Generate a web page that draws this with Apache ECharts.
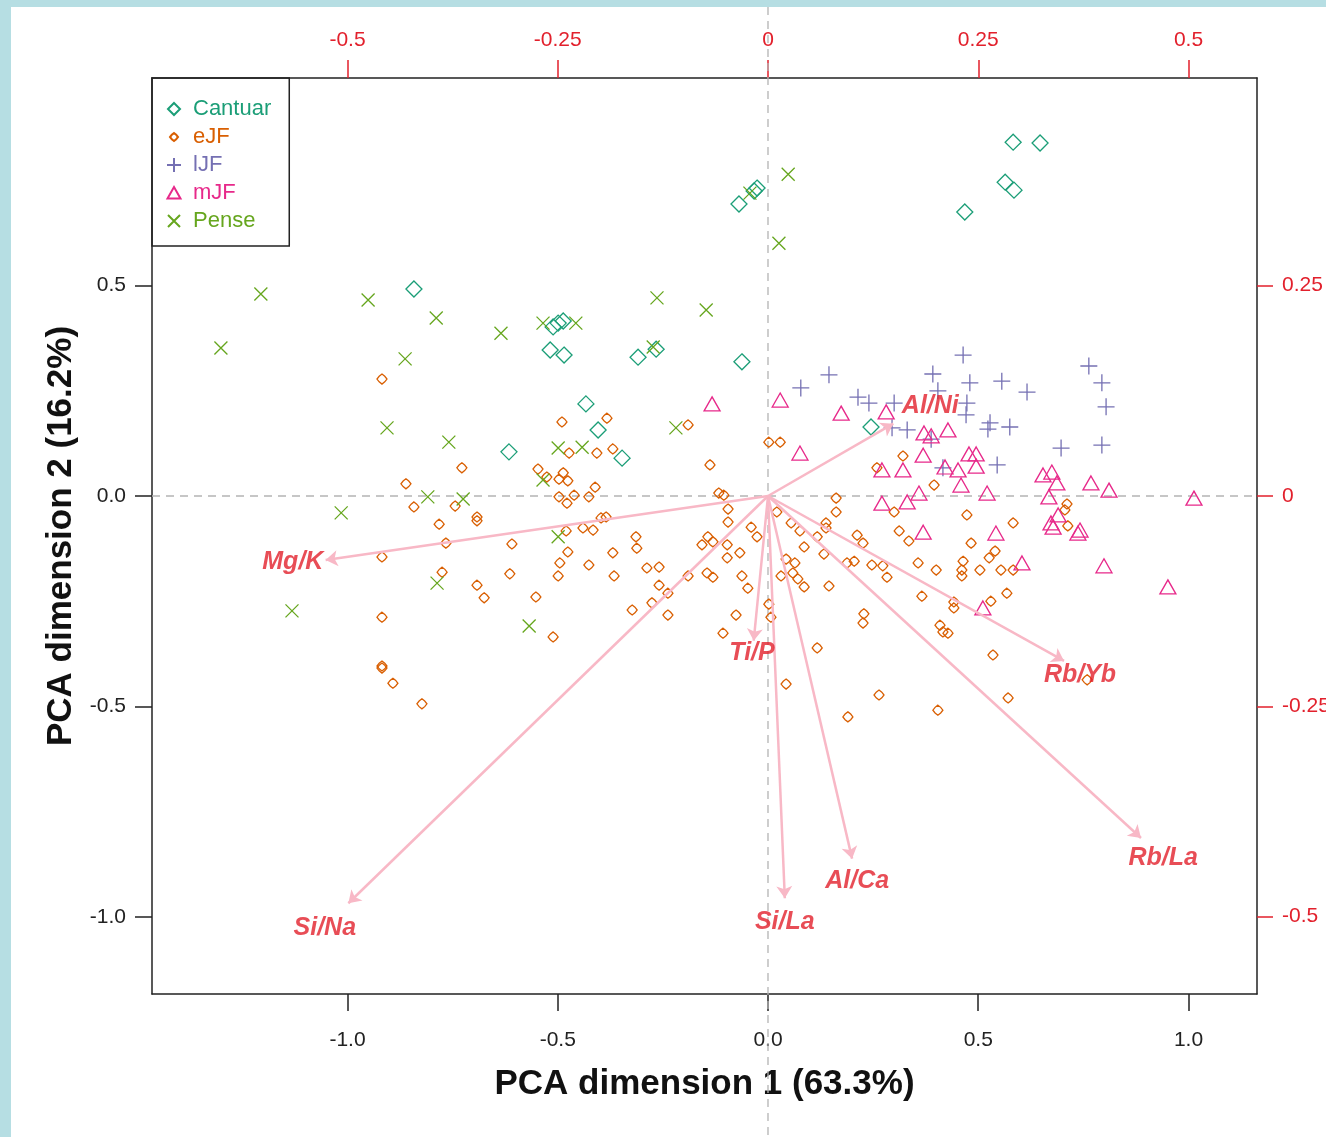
<!DOCTYPE html>
<html>
<head>
<meta charset="utf-8">
<script src="https://cdn.jsdelivr.net/npm/echarts@6/dist/echarts.min.js"></script>
<style>
html,body{margin:0;padding:0;background:#b6dee3;width:1326px;height:1137px;overflow:hidden;}
#main{position:absolute;left:11px;top:7px;width:1315px;height:1130px;background:#ffffff;}
</style>
</head>
<body>
<div id="main"></div>
<script>
// ---- data (PCA scores, primary axes) ----
const groups = ['Cantuar', 'eJF', 'lJF', 'mJF', 'Pense'];
const groupColors = ['#1B9E77', '#D95F02', '#7570B3', '#E7298A', '#66A61E'];

const cantuar = [
  [0.583,0.841],[0.647,0.839],[0.564,0.746],[0.585,0.727],[0.468,0.675],[-0.069,0.694],
  [-0.033,0.725],[-0.026,0.732],[-0.842,0.492],[-0.511,0.402],[-0.499,0.411],[-0.487,0.416],
  [-0.518,0.347],[-0.485,0.335],[-0.309,0.330],[-0.266,0.349],[-0.062,0.319],[-0.433,0.219],
  [-0.404,0.157],[-0.347,0.090],[-0.616,0.105],[0.245,0.164]
];
const eJF = [
  [-0.918,0.278],[-0.728,0.067],[-0.861,0.029],[-0.842,-0.026],[-0.744,-0.024],[-0.692,-0.050],
  [-0.490,0.176],[-0.383,0.185],[-0.190,0.169],[-0.473,0.102],[-0.407,0.102],[-0.369,0.112],
  [-0.547,0.064],[-0.526,0.045],[-0.487,0.055],[-0.497,0.040],[-0.476,0.036],[-0.411,0.021],
  [-0.138,0.074],[0.002,0.128],[0.029,0.128],[-0.497,-0.002],[-0.461,0.002],[-0.426,-0.002],
  [-0.478,-0.017],[-0.117,0.007],[-0.105,0.002],[-0.095,-0.031],[0.021,-0.038],[-0.397,-0.052],
  [-0.385,-0.050],[-0.782,-0.067],[-0.692,-0.059],[-0.766,-0.112],[-0.918,-0.145],[-0.609,-0.114],
  [-0.480,-0.083],[-0.440,-0.076],[-0.416,-0.081],[-0.476,-0.133],[-0.495,-0.159],[-0.499,-0.190],
  [-0.426,-0.164],[-0.369,-0.135],[-0.366,-0.190],[-0.314,-0.097],[-0.312,-0.124],[-0.288,-0.171],
  [-0.259,-0.169],[-0.259,-0.212],[-0.238,-0.231],[-0.276,-0.254],[-0.323,-0.271],[-0.238,-0.283],
  [-0.190,-0.190],[-0.145,-0.183],[-0.131,-0.193],[-0.143,-0.097],[-0.157,-0.116],[-0.131,-0.109],
  [-0.097,-0.116],[-0.067,-0.135],[-0.097,-0.147],[-0.062,-0.190],[-0.048,-0.219],[-0.076,-0.283],
  [-0.107,-0.326],[-0.095,-0.062],[-0.040,-0.074],[-0.026,-0.097],[-0.614,-0.185],[-0.692,-0.212],
  [-0.675,-0.242],[-0.552,-0.240],[-0.511,-0.335],[-0.918,-0.288],[-0.918,-0.404],[-0.918,-0.409],
  [-0.892,-0.445],[-0.823,-0.494],[-0.775,-0.181],
  [0.162,-0.005],[0.162,-0.038],[0.055,-0.064],[0.076,-0.083],[0.138,-0.064],[0.138,-0.076],
  [0.117,-0.097],[0.086,-0.121],[0.133,-0.138],[0.212,-0.093],[0.226,-0.112],[0.043,-0.150],
  [0.064,-0.159],[0.031,-0.190],[0.059,-0.183],[0.071,-0.197],[0.086,-0.216],[0.145,-0.214],
  [0.188,-0.159],[0.205,-0.155],[0.247,-0.164],[0.273,-0.166],[0.283,-0.193],[0.300,-0.038],
  [0.312,-0.083],[0.335,-0.107],[0.357,-0.159],[0.400,-0.176],[0.366,-0.238],[0.395,0.026],
  [0.473,-0.045],[0.483,-0.112],[0.464,-0.155],[0.461,-0.176],[0.461,-0.190],[0.504,-0.176],
  [0.526,-0.147],[0.540,-0.131],[0.554,-0.176],[0.583,-0.176],[0.583,-0.064],[0.442,-0.252],
  [0.442,-0.266],[0.530,-0.250],[0.568,-0.231],[0.409,-0.307],[0.416,-0.323],[0.428,-0.326],
  [0.228,-0.280],[0.226,-0.302],[0.117,-0.361],[0.535,-0.378],[0.002,-0.257],[0.007,-0.288],
  [0.043,-0.447],[0.264,-0.473],[0.404,-0.509],[0.571,-0.480],[0.190,-0.525],[0.321,0.095],
  [0.259,0.067],[0.711,-0.019],[0.706,-0.033],[0.713,-0.071],[0.759,-0.437]
];
const lJF = [
  [0.464,0.335],[0.145,0.288],[0.078,0.257],[0.392,0.290],[0.480,0.269],[0.556,0.273],
  [0.616,0.247],[0.404,0.250],[0.214,0.235],[0.240,0.221],[0.300,0.221],[0.473,0.221],
  [0.471,0.193],[0.295,0.162],[0.331,0.157],[0.528,0.174],[0.523,0.159],[0.575,0.164],
  [0.388,0.135],[0.416,0.067],[0.545,0.074],[0.697,0.114],[0.763,0.309],[0.794,0.269],
  [0.804,0.212],[0.794,0.121]
];
const mJF = [
  [-0.133,0.219],[0.029,0.228],[0.174,0.197],[0.281,0.200],[0.076,0.102],[0.371,0.150],
  [0.388,0.143],[0.428,0.157],[0.369,0.097],[0.321,0.062],[0.271,0.062],[0.421,0.069],
  [0.452,0.062],[0.478,0.100],[0.495,0.100],[0.495,0.071],[0.459,0.026],[0.521,0.007],
  [0.359,0.007],[0.331,-0.014],[0.271,-0.017],[0.369,-0.086],[0.542,-0.088],[0.604,-0.159],
  [0.511,-0.266],[0.654,0.050],[0.675,0.057],[0.687,0.031],[0.668,-0.002],[0.768,0.031],
  [0.811,0.014],[1.013,-0.005],[0.690,-0.045],[0.673,-0.064],[0.678,-0.074],[0.742,-0.081],
  [0.737,-0.088],[0.799,-0.166],[0.951,-0.216]
];
const pense = [
  [-1.301,0.352],[-1.206,0.480],[-0.951,0.466],[-0.789,0.423],[-0.863,0.326],[-0.906,0.162],
  [-0.759,0.128],[-0.809,-0.002],[-0.725,-0.007],[-1.015,-0.040],[-1.132,-0.273],[-0.787,-0.207],
  [-0.568,-0.309],[-0.499,-0.097],[-0.635,0.387],[-0.535,0.411],[-0.457,0.411],[-0.264,0.471],
  [-0.147,0.442],[-0.273,0.354],[-0.219,0.162],[-0.499,0.114],[-0.442,0.116],[-0.535,0.038],
  [0.048,0.765],[0.026,0.601],[-0.043,0.720]
];
const groupData = [cantuar, eJF, lJF, mJF, pense];

// ---- loadings (secondary axes) ----
const varNames = ['Mg/K', 'Si/Na', 'Ti/P', 'Si/La', 'Al/Ca', 'Rb/La', 'Rb/Yb', 'Al/Ni'];
const arrowX = [-0.526, -0.499, -0.017, 0.020, 0.100, 0.4435, 0.352, 0.149];
const arrowY = [-0.076, -0.484, -0.172, -0.478, -0.431, -0.4065, -0.196, 0.086];
const textX  = [-0.565, -0.527, -0.019, 0.020, 0.106, 0.470, 0.371, 0.193];
const textY  = [-0.078, -0.513, -0.187, -0.506, -0.458, -0.430, -0.213, 0.107];

// ---- axes ----
const xTicks = [-1.0, -0.5, 0.0, 0.5, 1.0];
const yTicks = [-1.0, -0.5, 0.0, 0.5];
const topTicks = [-0.5, -0.25, 0, 0.25, 0.5];
const rightTicks = [-0.5, -0.25, 0, 0.25];
const xRange = [-1.4649, 1.1629];
const yRange = [-1.1837, 0.9936];
const xRange2 = [-0.73246, 0.58145];
const yRange2 = [-0.59187, 0.49679];

const FONT = '"Liberation Sans", Arial, sans-serif';
const RED = '#e2202c';
const INK = '#222222';

const symbols = {
  Cantuar: 'diamond',
  eJF: 'path://M5,0 L7.8,2.2 L10,5 L7.8,7.8 L5,10 L2.2,7.8 L0,5 L2.2,2.2 Z',
  lJF: 'path://M0,8 L16,8 M8,0 L8,16',
  mJF: 'triangle',
  Pense: 'path://M0,0 L16,16 M16,0 L0,16'
};
const legendIcons = {
  Cantuar: 'path://M0,0 M14,14 M7,1 L13,7 L7,13 L1,7 Z',
  eJF: 'path://M0,0 M14,14 M7,3 L9.2,4.8 L11,7 L9.2,9.2 L7,11 L4.8,9.2 L3,7 L4.8,4.8 Z',
  lJF: 'path://M0,0 M14,14 M0,7 L14,7 M7,0 L7,14',
  mJF: 'path://M0,0 M14,14 M7,1 L13.5,12.5 L0.5,12.5 Z',
  Pense: 'path://M0,0 M14,14 M1,1 L13,13 M13,1 L1,13'
};
const sizes = { Cantuar: [16, 16], eJF: [10, 10], lJF: [17, 17], mJF: [16, 14], Pense: [13, 13] };

const chart = echarts.init(document.getElementById('main'), null, { renderer: 'canvas', width: 1315, height: 1130 });

const pointSeries = groups.map((g, i) => ({
  name: g,
  type: 'scatter',
  xAxisIndex: 0, yAxisIndex: 0,
  data: groupData[i],
  symbol: symbols[g],
  symbolSize: sizes[g],
  itemStyle: { color: 'rgba(255,255,255,0)', borderColor: groupColors[i], borderWidth: 1.3, opacity: 1 },
  emphasis: { disabled: true },
  z: 3
}));

const arrowSeries = {
  type: 'lines',
  coordinateSystem: 'cartesian2d',
  xAxisIndex: 1, yAxisIndex: 1,
  symbol: ['none', 'arrow'],
  symbolSize: 12,
  lineStyle: { color: '#f8b8c6', width: 2.5, opacity: 1, curveness: 0 },
  data: varNames.map((n, i) => ({ coords: [[0, 0], [arrowX[i], arrowY[i]]] })),
  silent: true,
  z: 4
};

const labelSeries = {
  type: 'scatter',
  xAxisIndex: 1, yAxisIndex: 1,
  symbolSize: 1,
  itemStyle: { color: 'rgba(0,0,0,0)' },
  data: varNames.map((n, i) => ({ name: n, value: [textX[i], textY[i]] })),
  label: {
    show: true, position: 'inside',
    formatter: p => p.name,
    color: RED, fontSize: 25, fontWeight: 'bold', fontStyle: 'italic', fontFamily: FONT
  },
  silent: true,
  z: 5
};

const option = {
  animation: false,
  backgroundColor: '#ffffff',
  grid: { left: 141, top: 71, right: 69, bottom: 143, containLabel: false, outerBoundsMode: 'none' },
  legend: {
    orient: 'vertical',
    left: 141, top: 71,
    data: groups.map((g, i) => ({ name: g, icon: legendIcons[g], textStyle: { color: groupColors[i] } })),
    borderColor: INK, borderWidth: 1.5,
    padding: [20, 18, 14, 14],
    itemGap: 6,
    itemWidth: 14, itemHeight: 14,
    selectedMode: false,
    textStyle: { fontSize: 22, fontFamily: FONT, padding: [0, 0, 0, 7] }
  },
  xAxis: [
    {
      type: 'value', position: 'bottom', min: xRange[0], max: xRange[1],
      axisLine: { show: true, onZero: false, lineStyle: { color: INK, width: 1.5 } },
      axisTick: { show: true, length: 17, customValues: xTicks, lineStyle: { color: INK, width: 1.5 } },
      axisLabel: { customValues: xTicks, formatter: v => v.toFixed(1), margin: 36, fontSize: 21, color: INK, fontFamily: FONT },
      splitLine: { show: false },
      name: 'PCA dimension 1 (63.3%)', nameLocation: 'middle', nameGap: 73,
      nameTextStyle: { fontSize: 35, fontWeight: 'bold', color: '#111', fontFamily: FONT }
    },
    {
      type: 'value', position: 'top', min: xRange2[0], max: xRange2[1],
      axisLine: { show: true, onZero: false, lineStyle: { color: INK, width: 1.5 } },
      axisTick: { show: true, length: 18, customValues: topTicks, lineStyle: { color: RED, width: 1.5 } },
      axisLabel: { customValues: topTicks, formatter: v => String(v), margin: 27, fontSize: 21, color: RED, fontFamily: FONT },
      splitLine: { show: false }
    }
  ],
  yAxis: [
    {
      type: 'value', position: 'left', min: yRange[0], max: yRange[1],
      axisLine: { show: true, onZero: false, lineStyle: { color: INK, width: 1.5 } },
      axisTick: { show: true, length: 17, customValues: yTicks, lineStyle: { color: INK, width: 1.5 } },
      axisLabel: { customValues: yTicks, formatter: v => v.toFixed(1), margin: 26, fontSize: 21, color: INK, fontFamily: FONT },
      splitLine: { show: false },
      name: 'PCA dimension 2 (16.2%)', nameLocation: 'middle', nameGap: 64,
      nameTextStyle: { fontSize: 35, fontWeight: 'bold', color: '#111', fontFamily: FONT }
    },
    {
      type: 'value', position: 'right', min: yRange2[0], max: yRange2[1],
      axisLine: { show: true, onZero: false, lineStyle: { color: INK, width: 1.5 } },
      axisTick: { show: true, length: 16, customValues: rightTicks, lineStyle: { color: RED, width: 1.5 } },
      axisLabel: { customValues: rightTicks, formatter: v => String(v), margin: 25, fontSize: 21, color: RED, fontFamily: FONT },
      splitLine: { show: false }
    }
  ],
  series: pointSeries.concat([arrowSeries, labelSeries])
};

chart.setOption(option);

// dashed zero reference lines, positioned through the chart's own scales
const x0 = chart.convertToPixel({ xAxisIndex: 0 }, 0);
const y0 = chart.convertToPixel({ yAxisIndex: 0 }, 0);
const xl = chart.convertToPixel({ xAxisIndex: 0 }, xRange[0]);
const xr = chart.convertToPixel({ xAxisIndex: 0 }, xRange[1]);
chart.setOption({
  graphic: [
    { type: 'line', silent: true, z: 1,
      shape: { x1: x0, y1: 0, x2: x0, y2: 1130 },
      style: { stroke: '#b4b4b4', lineWidth: 1.3, lineDash: [8, 6] } },
    { type: 'line', silent: true, z: 1,
      shape: { x1: xl, y1: y0, x2: xr, y2: y0 },
      style: { stroke: '#b4b4b4', lineWidth: 1.3, lineDash: [8, 6] } }
  ]
});
</script>
</body>
</html>
